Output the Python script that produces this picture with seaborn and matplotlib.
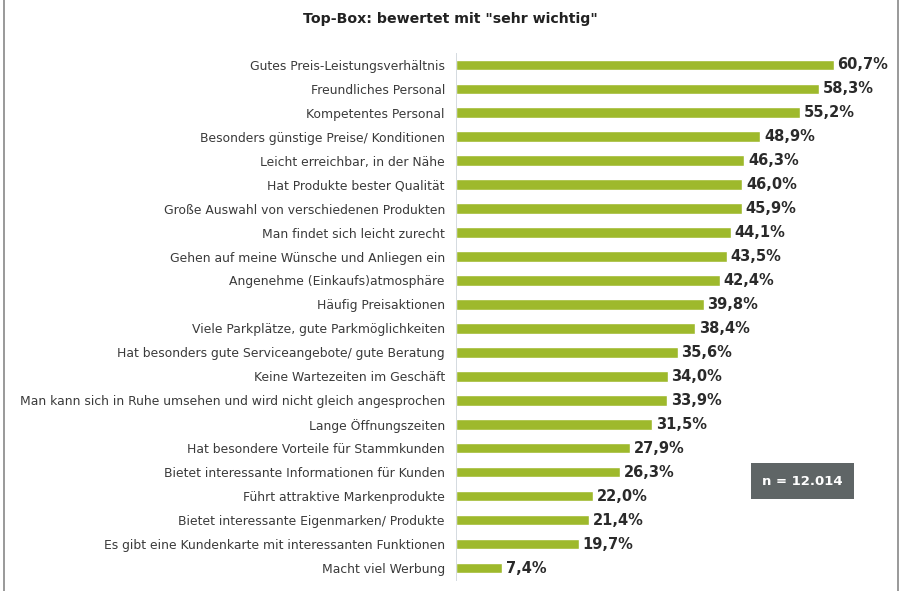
import matplotlib
matplotlib.use("Agg")
import matplotlib.pyplot as plt
import seaborn as sns
import pandas as pd
from matplotlib.lines import Line2D
from matplotlib.ticker import FixedLocator

categories = [
    "Gutes Preis-Leistungsverhältnis",
    "Freundliches Personal",
    "Kompetentes Personal",
    "Besonders günstige Preise/ Konditionen",
    "Leicht erreichbar, in der Nähe",
    "Hat Produkte bester Qualität",
    "Große Auswahl von verschiedenen Produkten",
    "Man findet sich leicht zurecht",
    "Gehen auf meine Wünsche und Anliegen ein",
    "Angenehme (Einkaufs)atmosphäre",
    "Häufig Preisaktionen",
    "Viele Parkplätze, gute Parkmöglichkeiten",
    "Hat besonders gute Serviceangebote/ gute Beratung",
    "Keine Wartezeiten im Geschäft",
    "Man kann sich in Ruhe umsehen und wird nicht gleich angesprochen",
    "Lange Öffnungszeiten",
    "Hat besondere Vorteile für Stammkunden",
    "Bietet interessante Informationen für Kunden",
    "Führt attraktive Markenprodukte",
    "Bietet interessante Eigenmarken/ Produkte",
    "Es gibt eine Kundenkarte mit interessanten Funktionen",
    "Macht viel Werbung",
]
values = [60.7, 58.3, 55.2, 48.9, 46.3, 46.0, 45.9, 44.1, 43.5, 42.4, 39.8,
          38.4, 35.6, 34.0, 33.9, 31.5, 27.9, 26.3, 22.0, 21.4, 19.7, 7.4]
value_labels = ["60,7%", "58,3%", "55,2%", "48,9%", "46,3%", "46,0%", "45,9%",
                "44,1%", "43,5%", "42,4%", "39,8%", "38,4%", "35,6%", "34,0%",
                "33,9%", "31,5%", "27,9%", "26,3%", "22,0%", "21,4%", "19,7%", "7,4%"]
title = 'Top-Box: bewertet mit "sehr wichtig"'
note = "n = 12.014"

df = pd.DataFrame({"cat": categories, "val": values})

sns.set_theme(style="white")
plt.rcParams["font.family"] = ["DejaVu Sans"]

fig = plt.figure(figsize=(9.03, 5.91), dpi=100)
ax = fig.add_axes([0.505, 0.0186, 0.486, 0.892])

sns.barplot(data=df, x="val", y="cat", orient="h", color="#9eb92c",
            saturation=1, width=0.44, ax=ax)

ax.set_xlim(0, 70.5)
ax.set_ylim(len(categories) - 0.5, -0.5)
ax.set_xlabel("")
ax.set_ylabel("")
ax.set_xticks([])
for s in ["top", "right", "bottom"]:
    ax.spines[s].set_visible(False)
ax.spines["left"].set_color("#d4dae0")
ax.spines["left"].set_linewidth(0.7)
ax.tick_params(axis="y", which="major", length=0, pad=8, labelsize=8.9,
               labelcolor="#3a3a3a")
ax.yaxis.set_minor_locator(FixedLocator([i + 0.5 for i in range(-1, len(categories))]))
ax.tick_params(axis="y", which="minor", length=2, color="#b8c0c8", width=0.8)

for i, (v, lab) in enumerate(zip(values, value_labels)):
    ax.text(v + 0.6, i, lab, va="center", ha="left", fontsize=10.5,
            fontweight="bold", color="#2a2a2a")

fig.text(0.4983, 0.968, title, ha="center", va="center", fontsize=10.2,
         fontweight="bold", color="#222222")

fig.text(0.8885, 0.186, note, ha="center", va="center", fontsize=9.5,
         fontweight="bold", color="white",
         bbox=dict(boxstyle="square,pad=0.85", facecolor="#5f6566",
                   edgecolor="none"))

fig.add_artist(Line2D([0.0045, 0.0045], [0.0, 1.0], transform=fig.transFigure,
                      color="#888888", linewidth=1.2))
fig.add_artist(Line2D([0.9945, 0.9945], [0.0, 1.0], transform=fig.transFigure,
                      color="#888888", linewidth=1.2))

fig.savefig("out.png", dpi=100, facecolor="white")
